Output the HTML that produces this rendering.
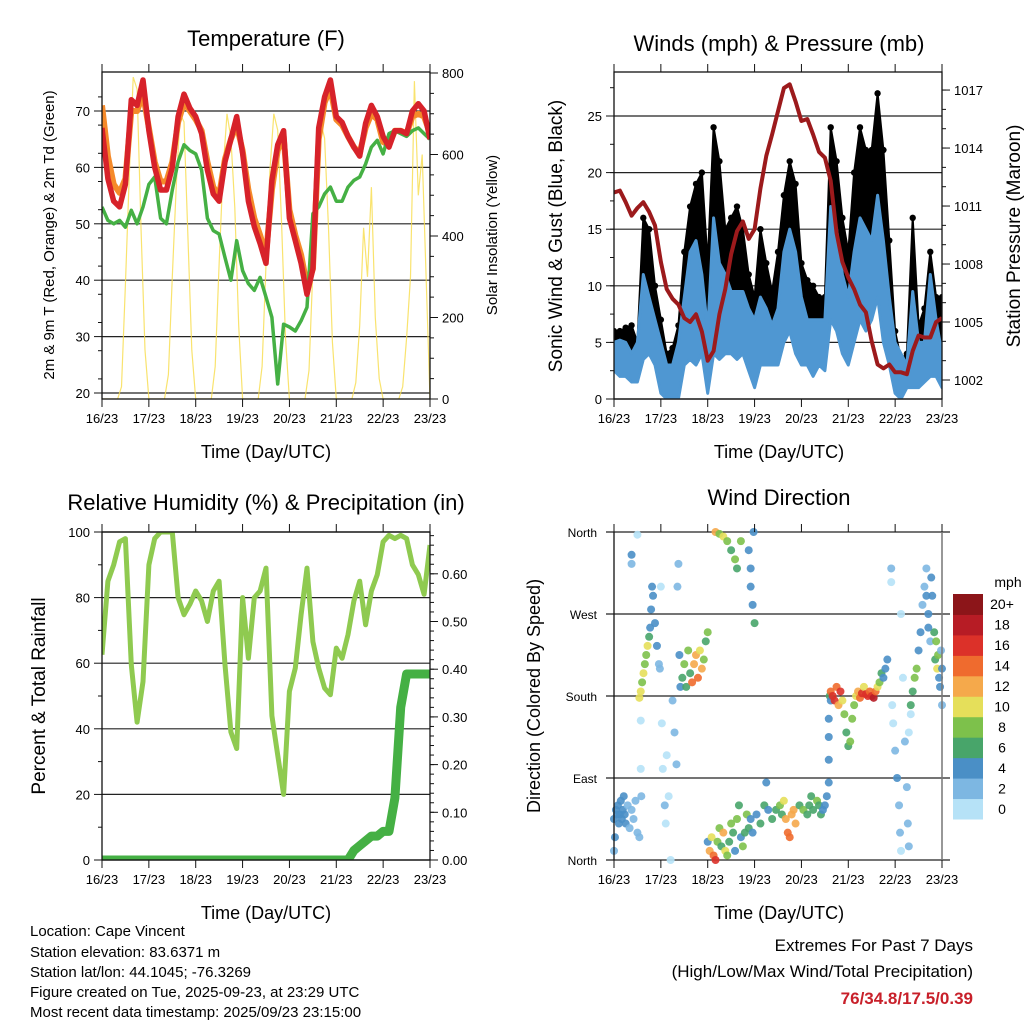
<!DOCTYPE html>
<html><head><meta charset="utf-8">
<style>
html,body{margin:0;padding:0;background:#fff;}
svg{display:block;font-family:"Liberation Sans",Arial,sans-serif;}
</style></head>
<body>
<svg id="chart" width="1024" height="1024" viewBox="0 0 1024 1024" xmlns="http://www.w3.org/2000/svg">
<defs>
<clipPath id="c1"><rect x="102" y="72" width="328" height="327"/></clipPath>
<clipPath id="c2"><rect x="614" y="72" width="328" height="327"/></clipPath>
<clipPath id="c3"><rect x="102" y="532" width="328" height="328"/></clipPath>
<clipPath id="c4"><rect x="610" y="526" width="336" height="340"/></clipPath>
</defs>
<g font-size="22" fill="#000" text-anchor="middle">
<text x="266" y="46">Temperature (F)</text>
<text x="779" y="51">Winds (mph) &amp; Pressure (mb)</text>
<text x="266" y="510">Relative Humidity (%) &amp; Precipitation (in)</text>
<text x="779" y="505">Wind Direction</text>
</g>
<g font-size="18" text-anchor="middle">
<text x="266" y="458">Time (Day/UTC)</text>
<text x="779" y="458">Time (Day/UTC)</text>
<text x="266" y="919">Time (Day/UTC)</text>
<text x="779" y="919">Time (Day/UTC)</text>
</g>
<text font-size="15" text-anchor="middle" transform="translate(54,235) rotate(-90)">2m &amp; 9m T (Red, Orange) &amp; 2m Td (Green)</text>
<text font-size="15" text-anchor="middle" transform="translate(497,235) rotate(-90)">Solar Insolation (Yellow)</text>
<text font-size="19" text-anchor="middle" transform="translate(562,236) rotate(-90)">Sonic Wind &amp; Gust (Blue, Black)</text>
<text font-size="19" text-anchor="middle" transform="translate(1020,236) rotate(-90)">Station Pressure (Maroon)</text>
<text font-size="19" text-anchor="middle" transform="translate(45,696) rotate(-90)">Percent &amp; Total Rainfall</text>
<text font-size="18" text-anchor="middle" transform="translate(540,696) rotate(-90)">Direction (Colored By Speed)</text>
<g font-size="15">
<text x="30" y="936">Location: Cape Vincent</text>
<text x="30" y="957">Station elevation: 83.6371 m</text>
<text x="30" y="977">Station lat/lon: 44.1045; -76.3269</text>
<text x="30" y="997">Figure created on Tue, 2025-09-23, at 23:29 UTC</text>
<text x="30" y="1017">Most recent data timestamp: 2025/09/23 23:15:00</text>
</g>
<g font-size="17" text-anchor="end">
<text x="973" y="951">Extremes For Past 7 Days</text>
<text x="973" y="977">(High/Low/Max Wind/Total Precipitation)</text>
<text x="973" y="1004" fill="#c8202a" font-weight="bold">76/34.8/17.5/0.39</text>
</g>
</svg>
<script>
const dayLabels=["16/23","17/23","18/23","19/23","20/23","21/23","22/23","23/23"];
const tHours=[0,3,6,9,12,15,18,21,24,27,30,33,36,39,42,45,48,51,54,57,60,63,66,69,72,75,78,81,84,87,90,93,96,99,102,105,108,111,114,117,120,123,126,129,132,135,138,141,144,147,150,153,156,159,162,165,168];
const temp2m=[67,58,54,53,57,72,71,75.5,66.5,60,56,56,60,69,73,70.5,69,66,59.5,55.3,54,61,65,69,62.5,54,49.5,46.5,43,57.7,64,66.5,51,47,43,37.5,42,67,72.5,75.5,69,68,65.5,63.6,62,67.8,71,69,65.5,63.6,66.5,66.5,66,70,71.3,70,65];
const temp9m=[71,62,57,55.5,58,70,70,73,67,61,57.5,57.5,61,68,71.5,70,68.5,66.5,61,56.5,55,61.5,65,67.5,63,56,51,48,44.5,56,63,65.5,52.5,48,44.5,39,42,65,71.5,74,68.5,67.5,65.5,63.6,62.5,67,69.5,68.5,64.5,64,66.5,66.5,66,69,69.5,69,66];
const dewpoint=[53,50.6,50,50.6,49.4,52.4,50,53,57,58.3,51,50,56,61,64,63,62.4,59.5,51,48.8,48.2,44,40,47,41.7,39.4,38.2,40.5,37,33.4,21.6,32.2,31.7,31,32.8,35.2,51.8,53,55.3,56.5,54,54,56.5,57.7,58.3,60.6,63.6,64.8,62.4,66,66.5,66,65.5,66.5,67,66,65];
const solarHours=[0,2,4,6,8,10,12,14,16,18,20,22,24,26,28,30,32,34,36,38,40,42,44,46,48,50,52,54,56,58,60,62,64,66,68,70,72,74,76,78,80,82,84,86,88,90,92,94,96,98,100,102,104,106,108,110,112,114,116,118,120,122,124,126,128,130,132,134,136,138,140,142,144,146,148,150,152,154,156,158,160,162,164,166,168];
const solar=[0,0,0,0,0,30,280,550,790,760,420,120,0,0,0,0,0,60,300,520,700,680,400,120,0,0,0,0,0,80,330,560,700,640,470,180,0,0,0,0,0,80,330,560,700,660,430,150,0,0,0,0,0,70,320,560,680,640,420,140,0,0,0,0,0,40,180,420,300,520,200,50,0,0,0,0,0,30,150,300,780,500,600,300,0];
const windLo=[2.5,2,2,1.5,1.5,3.5,4,3,0.5,0,0,0,3,3.5,3,4,0.5,4,3.5,4,4,3.5,4,2.5,1,3,3,3,3,5,6,4,3,3,2,3,2.5,7,6,4,3,5,7,6,7,9,5,3,0.5,0,1,1,1,1.5,2,2,1];
const windHi=[5,5.2,5,4,5,11,9,7,5,3,3,5,9,13,14,11,6,16,12,11,9.5,9.5,9.5,8,7,9,8,6.5,8,13,15,13,9,7,7,7,7,17,15,11,9,13,16,15,14,18,14,9,5,4,3,9.5,5,5,11,7,4];
const gustHi=[6,6,6.3,6.5,5,16,15,10,7,4,4.5,6.5,13,17,19,20,12,24,21,15,16,17,15,11,9,15,12,9.5,13,18,21,19,12,10.5,10,9,9,24,21,16,13,20,24,22,22,27,22,14,6,3.5,4,16,6.5,8,13,9,9];
const pressure=[1011.7,1011.8,1011.2,1010.5,1010.9,1011.2,1010.7,1010.0,1008.1,1006.7,1006.2,1005.9,1005.2,1005.0,1005.4,1004.5,1003.0,1003.5,1005.4,1006.7,1008.5,1009.7,1010.2,1009.3,1009.8,1011.9,1013.6,1014.7,1015.9,1017.1,1017.3,1016.4,1015.4,1015.5,1014.7,1013.8,1013.5,1012.3,1009.6,1008.1,1007.3,1006.7,1005.9,1005.5,1004.0,1002.8,1002.6,1002.8,1002.4,1002.4,1002.3,1003.5,1004.3,1004.2,1004.2,1005.0,1005.2];
const rhValues=[62.6,85,90,97,98,59.5,42,54.4,90,98,100,100,100,80,74.8,78,82,79,72.7,82,85,59.5,39,34,80,61.5,80,82,89,44,32,20,51.4,58.5,74.8,89,66.6,58.5,52.4,50.4,64.6,61.5,68.7,79,85,71.7,82,87,97,99,98,99,98,90,87,81,96];
const rainTotal=[0,0,0,0,0,0,0,0,0,0,0,0,0,0,0,0,0,0,0,0,0,0,0,0,0,0,0,0,0,0,0,0,0,0,0,0,0,0,0,0,0,0,0,0.02,0.03,0.04,0.05,0.05,0.06,0.06,0.13,0.32,0.39,0.39,0.39,0.39,0.39];
const dirT=[
0,0.5,1,1.5,2,2.5,3,3.5,4,4.5,5,5.5,6,0,7,8,9,10,11,12,13,14,
9,9,12,13.7,13.7,
13,13.7,14.4,15.1,15.8,16.5,17.2,18,
18.5,19,19.5,20,21,22,23,23.5,
24,24.5,25,26,26.5,27,28,29,30,31,32,32.5,33,33.5,34,
35,36,37,38,39,40,41,42,43,44,45,46,47,48,
48,49,50,51,52,53,54,55,56,57,58,59,60,61,62,63,64,65,66,67,68,69,70,
52,54,56,58,60,62,63,65,
69,70,70,71,71.5,72,
71,73,75,77,78,79,81,83,85,86,87,88,89,90,91,92,93,95,97,99,100,101,102,104,105,106,107,108,109,
110,110,110,110,110.5,111,
111,112,113,114,115,116,117,118,119,120,121,122,123,124,125,126,127,128,129,130,131,132,133,134,135,136,137,138,139,140,
142,142,142.5,143,144,145,146,146.5,147,147,148,149,150,150.5,151,151,152,
152,153,154,155,156,157,158,159,160,161,162,162.5,163,164,164.5,165,165.5,166,166.5,167,167.5,168,168,161,160];
const dirV=[
45,25,55,50,60,40,50,65,45,55,70,50,40,10,60,35,55,45,65,30,25,70,
335,325,357,153,100,
178,185,195,205,215,225,235,245,
255,275,300,290,260,235,215,210,
300,150,100,60,40,115,70,0,175,140,105,300,325,225,190,
200,215,190,230,205,195,215,225,200,230,210,220,240,250,
20,10,25,5,0,20,35,15,30,10,5,20,40,30,10,45,60,25,15,30,50,35,45,
360,358,355,350,340,330,320,350,
340,320,300,280,360,260,
30,50,40,60,85,55,45,55,60,50,65,45,30,25,50,55,40,60,55,50,60,70,55,65,60,50,55,60,70,
85,110,135,155,180,175,
185,180,175,190,170,185,175,160,140,125,130,155,170,180,185,178,183,190,182,180,185,180,178,185,190,195,205,200,210,220,
305,320,170,150,120,90,60,30,10,270,200,130,80,40,15,140,160,
170,185,200,210,230,250,280,300,320,270,240,310,290,250,220,240,210,225,200,190,230,170,210,255,290];
const dirS=[
4,4,4,4,4,4,4,4,4,4,4,4,4,3,2,2,2,2,2,2,2,2,
4,2,0,0,0,
10,10,8,10,8,8,10,6,
4,4,4,4,4,4,2,2,
0,0,0,2,0,0,0,0,2,2,2,2,2,4,4,
6,8,6,8,6,14,12,12,14,10,12,8,6,8,
4,12,10,14,16,8,8,6,12,10,8,6,8,6,4,8,6,4,8,6,8,6,4,
12,8,10,8,6,8,6,8,
4,4,4,4,4,6,
4,4,6,6,4,4,6,6,8,6,10,12,14,14,12,12,12,6,8,6,6,6,6,8,6,6,4,4,4,
4,4,4,4,6,4,
14,16,16,14,12,16,10,8,6,6,8,8,8,10,12,14,16,10,16,16,14,16,18,14,10,8,6,4,4,4,
0,2,0,0,2,4,2,2,0,0,0,2,2,2,2,0,0,
6,6,8,8,4,4,2,2,2,4,2,4,4,6,6,8,10,8,4,4,2,2,4,4,4];
const speedColors=["#b6e2f7","#7db7e2","#4a8fc6","#48a56a","#7dc14b","#e5df5a","#f5a94b","#ef6b2e","#dc3129","#b71c25","#8c1519"];
const speedLabels=["0","2","4","6","8","10","12","14","16","18","20+"];
const tempTicks=[20,30,40,50,60,70];
const solarTicks=[0,200,400,600,800];
const windTicks=[0,5,10,15,20,25];
const pressTicks=[1002,1005,1008,1011,1014,1017];
const rhTicks=[0,20,40,60,80,100];
const rainTicks=[0,0.1,0.2,0.3,0.4,0.5,0.6];
const dirTicks=[0,90,180,270,360];
const dirLabels=["North","East","South","West","North"];

const NS="http://www.w3.org/2000/svg";
const svg=document.getElementById('chart');
function mk(tag,attrs,parent){const e=document.createElementNS(NS,tag);for(const k in attrs)e.setAttribute(k,attrs[k]);(parent||svg).appendChild(e);return e;}
const P1={x0:102,x1:430,y0:72,y1:399},P2={x0:614,x1:942,y0:72,y1:399},P3={x0:102,x1:430,y0:532,y1:860},P4={x0:614,x1:942,y0:532,y1:860};
function xs(P,t){return P.x0+t/168*(P.x1-P.x0);}
const yT=v=>393-(v-20)*5.64, yS=v=>399-v*326/800, yW=v=>399-v*11.32, yP=v=>380-(v-1002)*19.33;
const yR=v=>860-v*3.28, yRain=v=>860-v*477, yD=v=>860-v*328/360;

function grid(P,ticks,yf,name,ext){
  const g=mk('g',{});
  
  
  ticks.forEach(v=>{const y=yf(v);if(y<P.y0-1||y>P.y1+1)return;
    const l=mk('line',{x1:P.x0-(ext||0),x2:P.x1+(ext||0),y1:y,y2:y,stroke:'#222','stroke-width':1.2},g);
    
    });
}
function frame(P,name){
  const r=mk('rect',{x:P.x0,y:P.y0,width:P.x1-P.x0,height:P.y1-P.y0,fill:'none',stroke:'#111','stroke-width':1.3});
  
  
  const g=mk('g',{'font-size':13,'text-anchor':'middle'});
  
  
  dayLabels.forEach((s,i)=>{const x=xs(P,i*24);
    mk('line',{x1:x,x2:x,y1:P.y0,y2:P.y0-8,stroke:'#111'},g);
    mk('line',{x1:x,x2:x,y1:P.y1,y2:P.y1+8,stroke:'#111'},g);
    const t=mk('text',{x:x,y:P.y1+24},g);t.textContent=s;
    
    });
}
function yaxis(P,ticks,yf,fmt,side,minor,name){
  const g=mk('g',{'font-size':13,'text-anchor':side==='l'?'end':'start'});
  
  
  const x=side==='l'?P.x0:P.x1, d=side==='l'?-1:1;
  ticks.forEach(v=>{const y=yf(v);
    mk('line',{x1:x,x2:x+d*8,y1:y,y2:y,stroke:'#111'},g);
    const t=mk('text',{x:x+d*12,y:y+5},g);t.textContent=fmt(v);
    
    });
  (minor||[]).forEach(v=>{const y=yf(v);if(y<P.y0||y>P.y1)return;mk('line',{x1:x,x2:x+d*4,y1:y,y2:y,stroke:'#111'},g);});
}
function range(a,b,s){const r=[];for(let v=a;v<=b+1e-9;v+=s)r.push(+v.toFixed(4));return r;}
function pts(P,T,V,yf){return T.map((t,i)=>xs(P,t).toFixed(1)+','+yf(V[i]).toFixed(1)).join(' ');}

// Panel 1: temperature
grid(P1,tempTicks,yT,'temp-gridlines');
const g1=mk('g',{'clip-path':'url(#c1)'});


let s=mk('polyline',{points:pts(P1,solarHours,solar,yS),fill:'none',stroke:'#f7dc4a','stroke-width':1.2,opacity:0.8},g1);


s=mk('polyline',{points:pts(P1,tHours,temp9m,yT),fill:'none',stroke:'#f58a2a','stroke-width':6,'stroke-linejoin':'round'},g1);


s=mk('polyline',{points:pts(P1,tHours,dewpoint,yT),fill:'none',stroke:'#45b044','stroke-width':3.5,'stroke-linejoin':'round'},g1);


s=mk('polyline',{points:pts(P1,tHours,temp2m,yT),fill:'none',stroke:'#d7222a','stroke-width':5.5,'stroke-linejoin':'round'},g1);


frame(P1,'temperature-frame');
yaxis(P1,tempTicks,yT,v=>v,'l',range(17.5,77.5,5),'temp-y-axis');
yaxis(P1,solarTicks,yS,v=>v,'r',range(50,750,50),'solar-y-axis');

// Panel 2: wind & pressure
grid(P2,windTicks,yW,'wind-gridlines');
const g2=mk('g',{'clip-path':'url(#c2)'});


const gustBand=tHours.map((t,i)=>xs(P2,t).toFixed(1)+','+yW(gustHi[i])).concat(tHours.slice().reverse().map((t,j)=>{const i=tHours.length-1-j;return xs(P2,t).toFixed(1)+','+yW(Math.max(windLo[i],windHi[i]*0.6));})).join(' ');
s=mk('polygon',{points:gustBand,fill:'#000',stroke:'#000','stroke-width':2,'stroke-linejoin':'round'},g2);


tHours.forEach((t,i)=>{const c=mk('circle',{cx:xs(P2,t),cy:yW(gustHi[i]),r:3.2,fill:'#000'},g2);
  
  });
const windBand=tHours.map((t,i)=>xs(P2,t).toFixed(1)+','+yW(windHi[i])).concat(tHours.slice().reverse().map((t,j)=>{const i=tHours.length-1-j;return xs(P2,t).toFixed(1)+','+yW(windLo[i]);})).join(' ');
s=mk('polygon',{points:windBand,fill:'#4f97d2',stroke:'#4f97d2','stroke-width':3,'stroke-linejoin':'round'},g2);


s=mk('polyline',{points:pts(P2,tHours,pressure,yP),fill:'none',stroke:'#9c1a1c','stroke-width':4,'stroke-linejoin':'round'},g2);


frame(P2,'wind-frame');
yaxis(P2,windTicks,yW,v=>v,'l',range(2.5,27.5,2.5),'wind-y-axis');
yaxis(P2,pressTicks,yP,v=>v,'r',range(1001,1018,1),'pressure-y-axis');

// Panel 3: RH & rain
grid(P3,rhTicks,yR,'rh-gridlines');
const g3=mk('g',{'clip-path':'url(#c3)'});


s=mk('polyline',{points:pts(P3,tHours,rhValues,yR),fill:'none',stroke:'#8fca50','stroke-width':5,'stroke-linejoin':'round'},g3);


s=mk('polyline',{points:pts(P3,tHours,rainTotal,yRain),fill:'none',stroke:'#45b044','stroke-width':9,'stroke-linejoin':'round','stroke-linecap':'round'},g3);


frame(P3,'rh-frame');
yaxis(P3,rhTicks,yR,v=>v,'l',range(10,90,20),'rh-y-axis');
yaxis(P3,rainTicks,yRain,v=>v.toFixed(2),'r',range(0.02,0.68,0.02),'rain-y-axis');

// Panel 4: wind direction
grid(P4,dirTicks,yD,'dir-gridlines',8);
const g4=mk('g',{'clip-path':'url(#c4)'});


dirT.forEach((t,i)=>{const k=Math.min(10,Math.floor(dirS[i]/2));
  const c=mk('circle',{cx:xs(P4,t),cy:yD(dirV[i]),r:4,fill:speedColors[k],'fill-opacity':0.9},g4);
  
  });
const axL=mk('line',{x1:P4.x0,x2:P4.x0,y1:P4.y0,y2:P4.y1,stroke:'#111','stroke-width':1.3});


const axR=mk('line',{x1:P4.x1,x2:P4.x1,y1:P4.y0,y2:P4.y1,stroke:'#777','stroke-width':1.5});


const gx4=mk('g',{'font-size':13,'text-anchor':'middle'});


dayLabels.forEach((lab,i)=>{const x=xs(P4,i*24);
  mk('line',{x1:x,x2:x,y1:P4.y0,y2:P4.y0-8,stroke:'#111'},gx4);
  mk('line',{x1:x,x2:x,y1:P4.y1,y2:P4.y1+8,stroke:'#111'},gx4);
  const t=mk('text',{x:x,y:P4.y1+24},gx4);t.textContent=lab;
  
  });
const gy4=mk('g',{'font-size':12,'text-anchor':'end'});


dirTicks.forEach((v,i)=>{const t=mk('text',{x:P4.x0-17,y:yD(v)+5},gy4);t.textContent=dirLabels[i];
  
  });
// colorbar
const cb=mk('g',{'font-size':14,'text-anchor':'middle'});


const cbTop=594,cbH=225/11;
speedColors.forEach((c,i)=>{const y=cbTop+(10-i)*cbH;
  const r=mk('rect',{x:953,y:y,width:30,height:cbH+0.5,fill:c},cb);
  
  
  const t=mk('text',{x:1002,y:y+cbH/2+5},cb);t.textContent=speedLabels[i];
  
  });
const cu=mk('text',{x:1008,y:587},cb);cu.textContent='mph';


</script>
</body></html>
